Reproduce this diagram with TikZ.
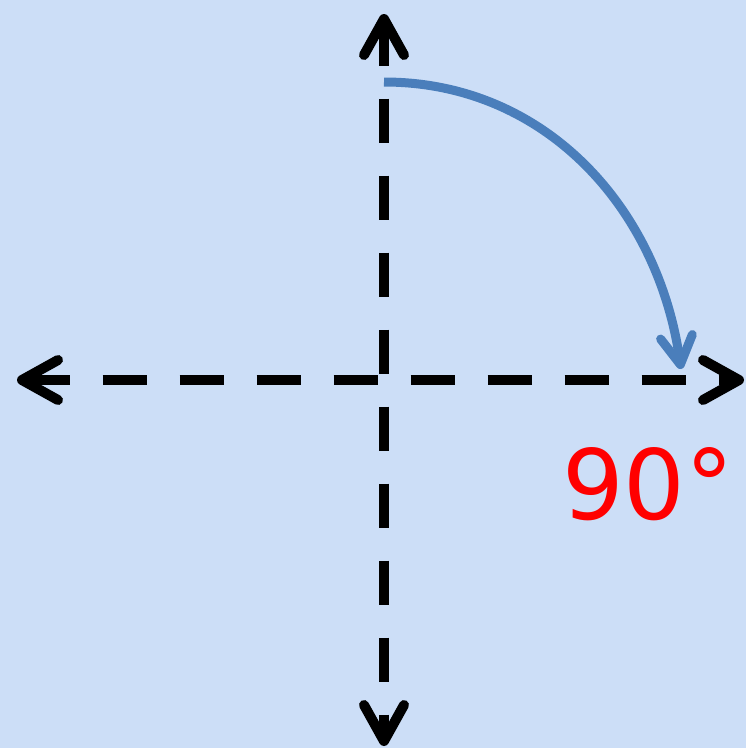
\documentclass[tikz,border=0pt]{standalone}
\usepackage{fontspec}
\newfontfamily\labelfont{DejaVu Sans}
\usetikzlibrary{arrows.meta}
\definecolor{bgblue}{RGB}{204,222,247}
\definecolor{arcblue}{RGB}{74,126,187}
\definecolor{degred}{RGB}{255,0,0}

\begin{document}
\begin{tikzpicture}[x=1pt, y=-1pt,
    axis/.style={line width=10pt, dash pattern=on 44pt off 33pt, {Straight Barb[round, length=36pt, width=40pt]}-{Straight Barb[round, length=36pt, width=40pt]}},
    turn/.style={arcblue, line width=9pt, -{Straight Barb[round, length=28pt, width=32pt]}},
    degree/.style={text=degred, font=\labelfont\fontsize{97}{97}\selectfont, inner sep=0pt, anchor=base}
  ]
  % Fundo
  \fill[bgblue] (0,0) rectangle (746,748);
  \useasboundingbox (0,0) rectangle (746,748);
  % Eixos
  \coordinate (west) at (17,380);
  \coordinate (east) at (744,380);
  \coordinate (north) at (384,14);
  \coordinate (south) at (384,746);
  \draw[axis, dash phase=1.5pt] (west) -- (east);
  \draw[axis, dash phase=2.5pt] (north) -- (south);
  % Rotacao
  \coordinate (arcstart) at (384,82);
  \coordinate (arcend) at (681,369);
  \draw[turn] (arcstart) to[out=0, in=98] (arcend);
  \node[degree] (angle) at (648,519) {90°};
\end{tikzpicture}
\end{document}
